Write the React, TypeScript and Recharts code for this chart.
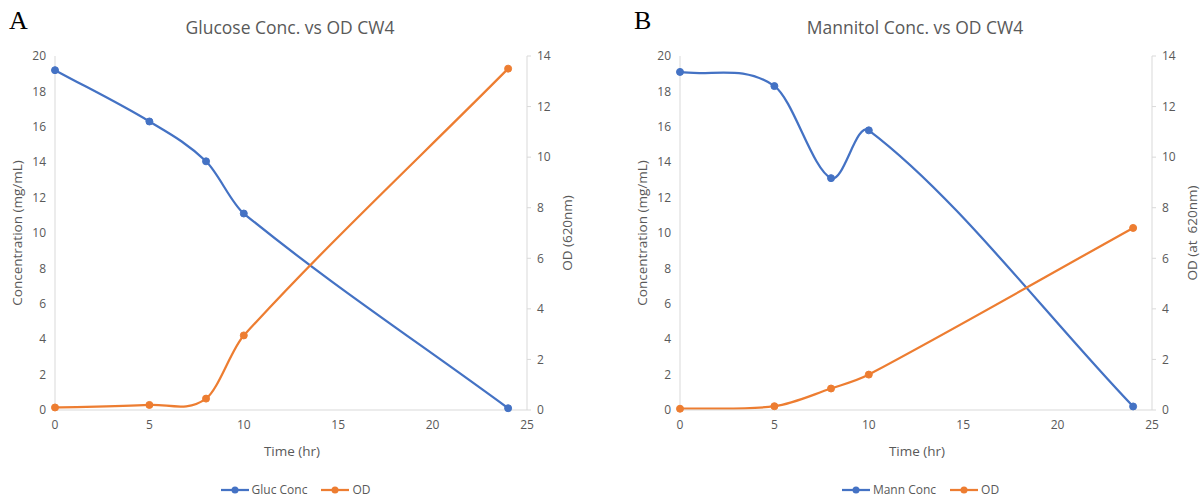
import React from "react";
import { LineChart, Line, XAxis, YAxis, Legend } from "recharts";

const timeHr = [0, 5, 8, 10, 24];
const glucConc = [19.2, 16.3, 14.05, 11.1, 0.1];
const glucOD = [0.1, 0.2, 0.45, 2.95, 13.5];
const mannConc = [19.1, 18.3, 13.1, 15.8, 0.2];
const mannOD = [0.05, 0.15, 0.85, 1.4, 7.2];
const xTicks = [0, 5, 10, 15, 20, 25];
const concTicks = [0, 2, 4, 6, 8, 10, 12, 14, 16, 18, 20];
const odTicks = [0, 2, 4, 6, 8, 10, 12, 14];

const BLUE = "#4472C4";
const ORANGE = "#ED7D31";
const TEXT = "#595959";
const AXIS = "#D9D9D9";
const FONT = "'Open Sans', 'Liberation Sans', sans-serif";

// Excel-like smoothed line: Hermite spline with neighbour-slope tangents
function excelCurve(context: any) {
  let pts: [number, number][] = [];
  const slope = (i: number) => {
    const n = pts.length;
    const a = pts[Math.max(0, i - 1)];
    const b = pts[Math.min(n - 1, i + 1)];
    const dx = b[0] - a[0];
    return dx === 0 ? 0 : (b[1] - a[1]) / dx;
  };
  return {
    areaStart() {},
    areaEnd() {},
    lineStart() {
      pts = [];
    },
    lineEnd() {
      const n = pts.length;
      if (n === 0) return;
      context.moveTo(pts[0][0], pts[0][1]);
      if (n === 1) return;
      for (let i = 0; i < n - 1; i++) {
        const p1 = pts[i];
        const p2 = pts[i + 1];
        const h = (p2[0] - p1[0]) / 3;
        const m1 = slope(i);
        const m2 = slope(i + 1);
        context.bezierCurveTo(p1[0] + h, p1[1] + m1 * h, p2[0] - h, p2[1] - m2 * h, p2[0], p2[1]);
      }
    },
    point(x: number, y: number) {
      pts.push([+x, +y]);
    },
  };
}

function makeRows(conc: number[], od: number[]) {
  return timeHr.map((t, i) => ({ time: t, conc: conc[i], od: od[i] }));
}

const LegendContent = ({ names }: { names: string[] }) => {
  const colors = [BLUE, ORANGE];
  return (
    <div style={{ display: "flex", justifyContent: "center", alignItems: "center", gap: 14, fontFamily: FONT, fontSize: 12, color: TEXT }}>
      {names.map((n, i) => (
        <div key={n} style={{ display: "flex", alignItems: "center", gap: 3 }}>
          <svg width={28} height={10}>
            <line x1={0} y1={5} x2={28} y2={5} stroke={colors[i]} strokeWidth={2.25} />
            <circle cx={14} cy={5} r={3.5} fill={colors[i]} />
          </svg>
          <span>{n}</span>
        </div>
      ))}
    </div>
  );
};

type PanelProps = {
  left: number;
  letter: string;
  title: string;
  concName: string;
  rightLabel: string;
  conc: number[];
  od: number[];
};

const Panel = ({ left, letter, title, concName, rightLabel, conc, od }: PanelProps) => {
  const data = makeRows(conc, od);
  const W = 575;
  const H = 497;
  const tick = { fill: TEXT, fontSize: 12, fontFamily: FONT };
  return (
    <div style={{ position: "absolute", left, top: 0, width: W, height: H }}>
      <LineChart width={W} height={H} data={data} margin={{ top: 56, right: 0, bottom: 0, left: 10 }}>
        <XAxis
          dataKey="time"
          type="number"
          domain={[0, 25]}
          ticks={xTicks}
          axisLine={{ stroke: AXIS }}
          tickLine={false}
          tickSize={0}
          tickMargin={10}
          height={87}
          tick={tick}
          interval={0}
        />
        <YAxis
          yAxisId="left"
          orientation="left"
          domain={[0, 20]}
          ticks={concTicks}
          width={45}
          axisLine={{ stroke: AXIS }}
          tickLine={false}
          tickSize={0}
          tickMargin={9}
          tick={tick}
          interval={0}
        />
        <YAxis
          yAxisId="right"
          orientation="right"
          domain={[0, 14]}
          ticks={odTicks}
          width={48}
          axisLine={{ stroke: AXIS }}
          tickLine={{ stroke: AXIS }}
          tickSize={4}
          tickMargin={6}
          tick={tick}
          interval={0}
        />
        <Line
          yAxisId="left"
          dataKey="conc"
          name={concName}
          type={excelCurve as any}
          stroke={BLUE}
          strokeWidth={2.25}
          dot={{ r: 3.5, fill: BLUE, stroke: BLUE, strokeWidth: 1 }}
          activeDot={false}
          isAnimationActive={false}
        />
        <Line
          yAxisId="right"
          dataKey="od"
          name="OD"
          type={excelCurve as any}
          stroke={ORANGE}
          strokeWidth={2.25}
          dot={{ r: 3.5, fill: ORANGE, stroke: ORANGE, strokeWidth: 1 }}
          activeDot={false}
          isAnimationActive={false}
        />
        <Legend
          layout="horizontal"
          verticalAlign="middle"
          align="center"
          wrapperStyle={{ top: 481, left: 8, width: W, height: 16 }}
          content={() => <LegendContent names={[concName, "OD"]} />}
        />
      </LineChart>
      <div style={{ position: "absolute", left: 9, top: 6, fontFamily: "'Liberation Serif', 'DejaVu Serif', serif", fontSize: 26, color: "#000", lineHeight: "30px" }}>
        {letter}
      </div>
      <div style={{ position: "absolute", left: 290, top: 27, transform: "translate(-50%, -50%)", whiteSpace: "nowrap", fontFamily: FONT, fontSize: 17.5, color: TEXT }}>
        {title}
      </div>
      <div style={{ position: "absolute", left: 292, top: 451, transform: "translate(-50%, -50%)", whiteSpace: "nowrap", fontFamily: FONT, fontSize: 13.5, color: TEXT }}>
        Time (hr)
      </div>
      <div style={{ position: "absolute", left: 17, top: 233, transform: "translate(-50%, -50%) rotate(-90deg)", whiteSpace: "nowrap", fontFamily: FONT, fontSize: 13.5, color: TEXT }}>
        Concentration (mg/mL)
      </div>
      <div style={{ position: "absolute", left: 567, top: 233, transform: "translate(-50%, -50%) rotate(-90deg)", whiteSpace: "nowrap", fontFamily: FONT, fontSize: 13.5, color: TEXT }}>
        {rightLabel}
      </div>
    </div>
  );
};

export default function App() {
  return (
    <div style={{ position: "fixed", left: 0, top: 0, width: 1200, height: 497, background: "#fff", overflow: "hidden" }}>
      <Panel left={0} letter="A" title="Glucose Conc. vs OD CW4" concName="Gluc Conc" rightLabel="OD (620nm)" conc={glucConc} od={glucOD} />
      <Panel left={625} letter="B" title="Mannitol Conc. vs OD CW4" concName="Mann Conc" rightLabel={"OD (at\u00a0 620nm)"} conc={mannConc} od={mannOD} />
    </div>
  );
}
